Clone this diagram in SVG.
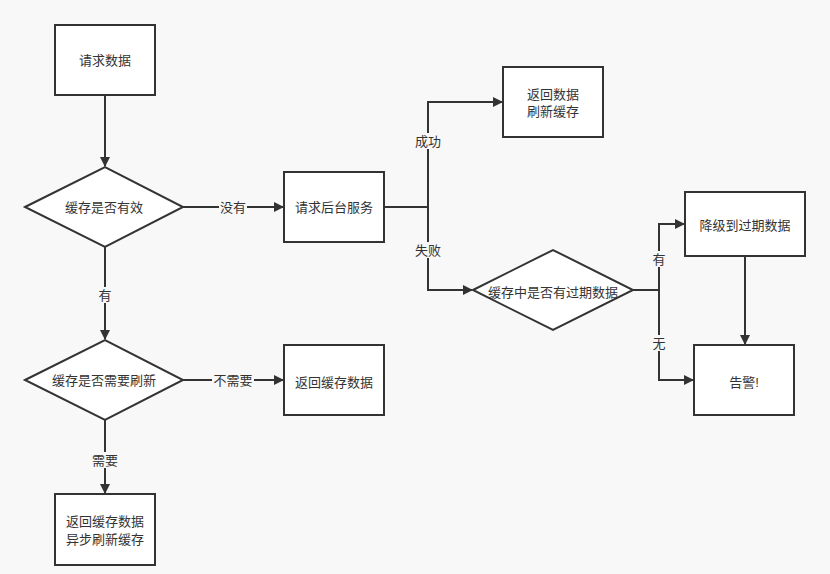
<svg xmlns="http://www.w3.org/2000/svg" width="830" height="574" viewBox="0 0 830 574">
<style>
.n{fill:#ffffff;stroke:#333333;stroke-width:2}
.t{font-family:"Liberation Sans","Noto Sans CJK SC",sans-serif;font-size:13px;fill:#333333;text-anchor:middle;dominant-baseline:central}
.c{fill:none;stroke:#333333;stroke-width:2}
.lb{fill:#f8f8f8}
</style>
<defs>
<marker id="ah" markerWidth="10" markerHeight="10" refX="9" refY="5" orient="auto" markerUnits="userSpaceOnUse">
<path d="M0,0 L10,5 L0,10 Z" fill="#333333"/>
</marker>
</defs>
<rect width="830" height="574" fill="#f8f8f8"/>
<g id="connectors">
<path class="c" d="M105,95 V166" marker-end="url(#ah)"/>
<path class="c" d="M183,207 H283" marker-end="url(#ah)"/>
<path class="c" d="M105,247 V339" marker-end="url(#ah)"/>
<path class="c" d="M183,380 H283" marker-end="url(#ah)"/>
<path class="c" d="M105,420 V493" marker-end="url(#ah)"/>
<path class="c" d="M384,207 H428 V102 H502" marker-end="url(#ah)"/>
<path class="c" d="M428,207 V290 H472" marker-end="url(#ah)"/>
<path class="c" d="M633,290 H659 V224 H684" marker-end="url(#ah)"/>
<path class="c" d="M659,290 V380 H693" marker-end="url(#ah)"/>
<path class="c" d="M745,256 V344" marker-end="url(#ah)"/>
<rect class="lb" x="219" y="199" width="28" height="16"/>
<text class="t" x="233" y="207">没有</text>
<rect class="lb" x="97" y="287" width="16" height="16"/>
<text class="t" x="105" y="295">有</text>
<rect class="lb" x="212" y="372" width="42" height="16"/>
<text class="t" x="233" y="380">不需要</text>
<rect class="lb" x="91" y="452" width="28" height="16"/>
<text class="t" x="105" y="460">需要</text>
<rect class="lb" x="414" y="133" width="28" height="16"/>
<text class="t" x="428" y="141">成功</text>
<rect class="lb" x="414" y="242" width="28" height="16"/>
<text class="t" x="428" y="250">失败</text>
<rect class="lb" x="651" y="251" width="16" height="16"/>
<text class="t" x="659" y="259">有</text>
<rect class="lb" x="651" y="335" width="16" height="16"/>
<text class="t" x="659" y="343">无</text>
</g>
<g id="n1"><rect class="n" x="55" y="25" width="100" height="70"/><text class="t" x="105" y="60">请求数据</text></g>
<g id="n2"><polygon class="n" points="25,207 105,167 183,207 105,247"/><text class="t" x="104" y="207">缓存是否有效</text></g>
<g id="n3"><rect class="n" x="284" y="172" width="100" height="70"/><text class="t" x="334" y="207">请求后台服务</text></g>
<g id="n4"><rect class="n" x="503" y="67" width="100" height="70"/><text class="t" x="553" y="94">返回数据</text><text class="t" x="553" y="111">刷新缓存</text></g>
<g id="n5"><polygon class="n" points="473,290 553,250 633,290 553,330"/><text class="t" x="553" y="292">缓存中是否有过期数据</text></g>
<g id="n6"><rect class="n" x="685" y="192" width="120" height="64"/><text class="t" x="745" y="225">降级到过期数据</text></g>
<g id="n7"><rect class="n" x="694" y="345" width="100" height="70"/><text class="t" x="744" y="382">告警!</text></g>
<g id="n8"><polygon class="n" points="25,380 105,340 183,380 105,420"/><text class="t" x="104" y="380">缓存是否需要刷新</text></g>
<g id="n9"><rect class="n" x="284" y="345" width="100" height="70"/><text class="t" x="334" y="382">返回缓存数据</text></g>
<g id="n10"><rect class="n" x="55" y="494" width="100" height="71"/><text class="t" x="105" y="521">返回缓存数据</text><text class="t" x="105" y="539">异步刷新缓存</text></g>
</svg>
